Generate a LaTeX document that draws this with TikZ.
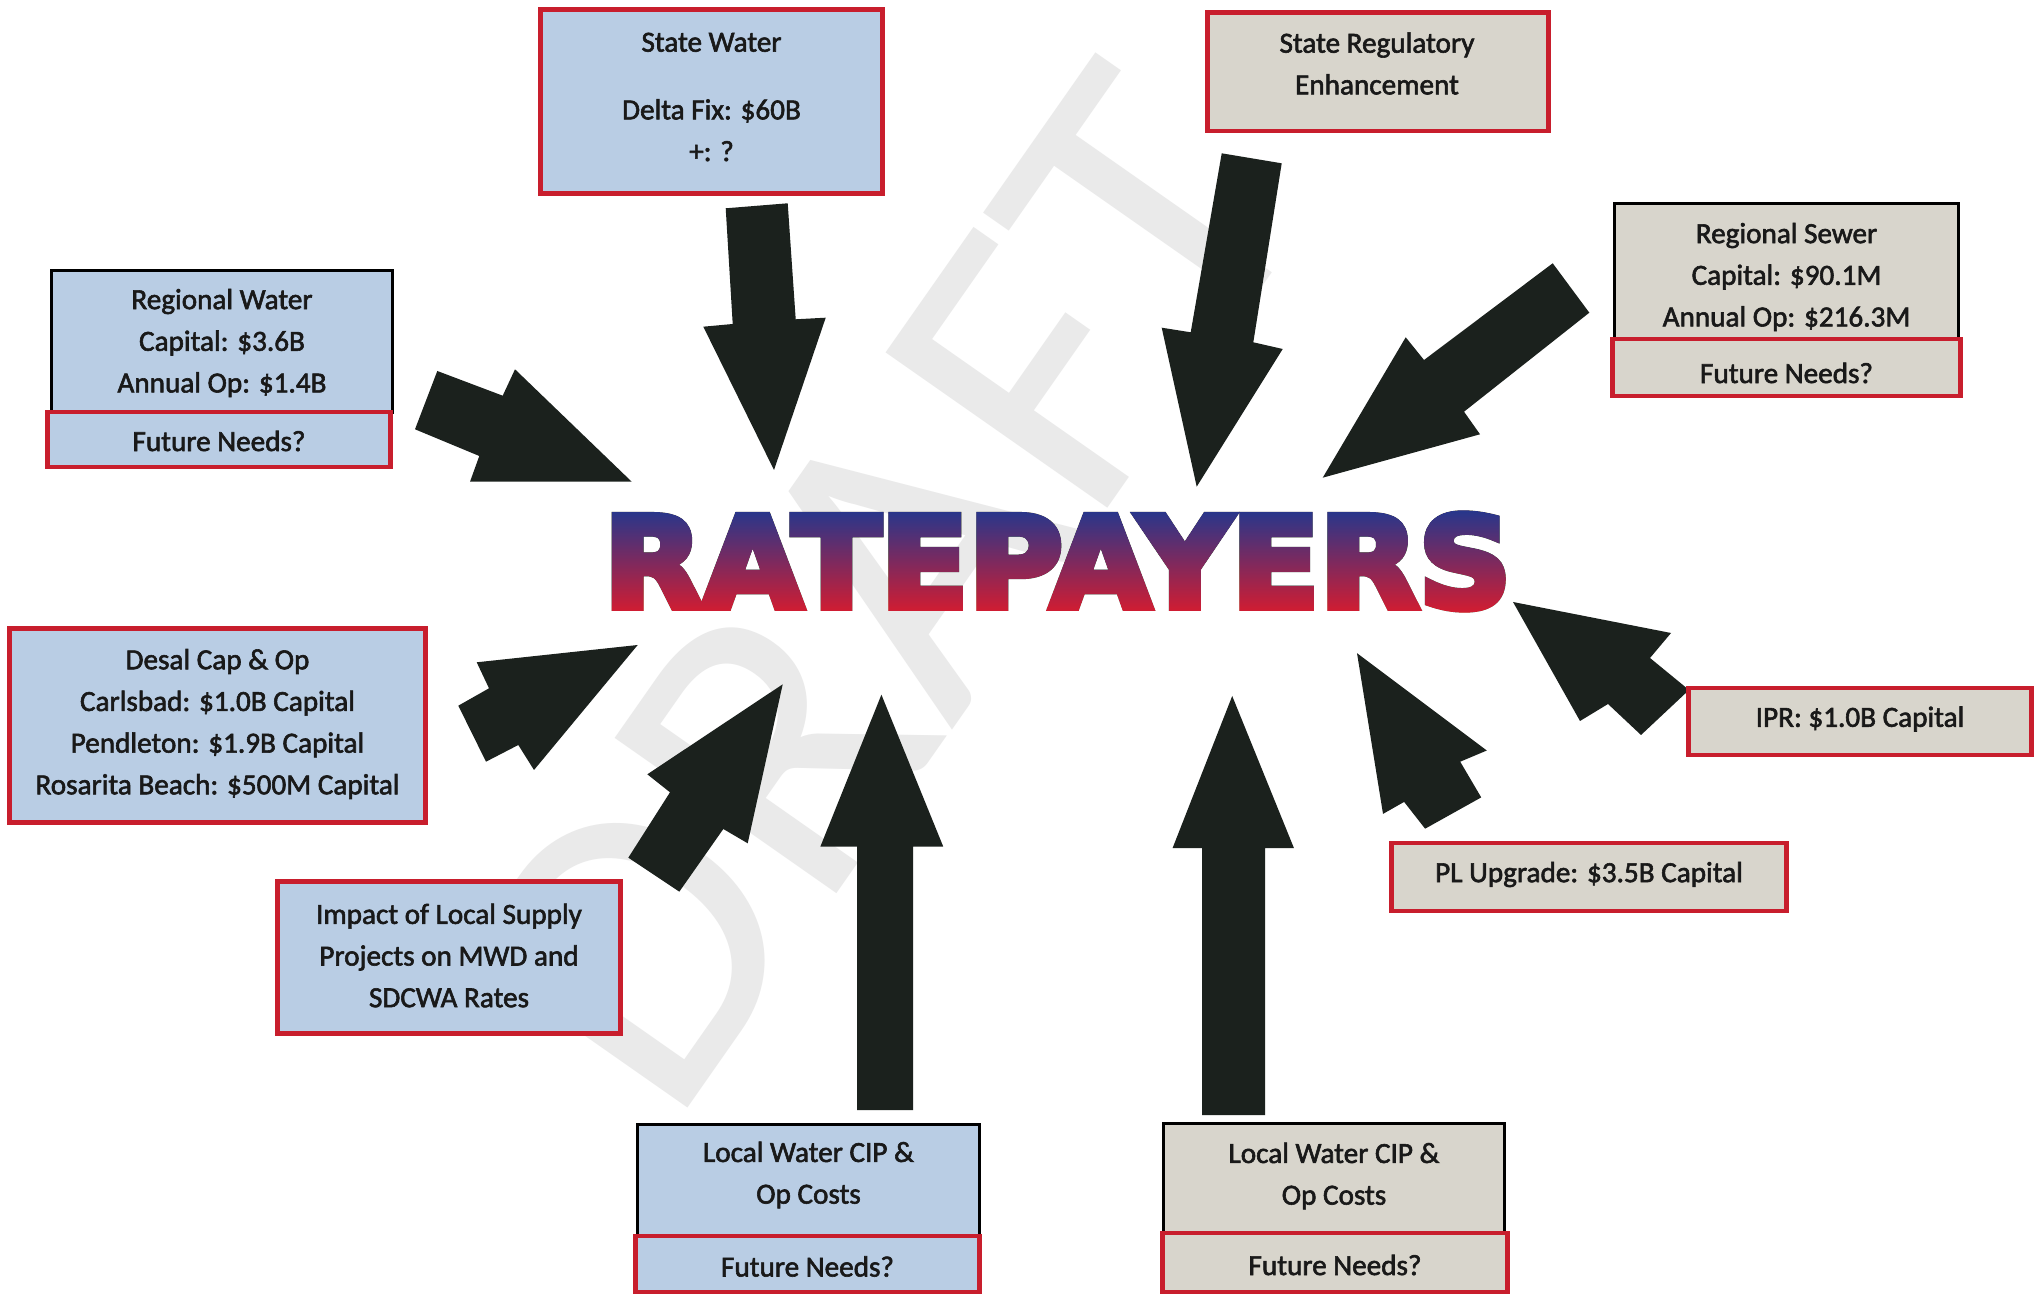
\documentclass[tikz,border=0pt]{standalone}
\usepackage{fontspec}
\setmainfont{Carlito}
\newfontfamily\boxfamily{Carlito}[FakeBold=2]
\newfontfamily\rpfamily{DejaVu Sans}[BoldFeatures={FakeBold=6}]
\usepackage{graphicx}
\definecolor{boxblue}{RGB}{185,205,228}
\definecolor{boxgray}{RGB}{216,213,204}
\definecolor{bred}{RGB}{200,30,45}
\definecolor{arrowc}{RGB}{27,33,29}
\definecolor{txt}{RGB}{25,25,25}
\definecolor{rpred}{RGB}{212,28,48}
\definecolor{rpblue}{RGB}{38,55,140}
\definecolor{wmgray}{RGB}{234,234,234}
\newcommand\bxfont{\boxfamily\fontsize{8.3}{11.85}\selectfont}
\newcommand\rpword{\resizebox{9.07cm}{0.93cm}{\rpfamily\bfseries RATEPAYERS}}
\tikzset{
  basebox/.style={draw, rectangle, inner sep=0pt},
  bluered/.style={basebox, fill=boxblue, draw=bred, line width=1.4pt},
  grayred/.style={basebox, fill=boxgray, draw=bred, line width=1.4pt},
  blueblk/.style={basebox, fill=boxblue, draw=black, line width=0.85pt},
  grayblk/.style={basebox, fill=boxgray, draw=black, line width=0.85pt},
  boxtext/.style={inner sep=0pt, align=center, font=\bxfont, text=txt},
  blockarrow/.style={fill=arrowc},
  rptext/.style={inner sep=0pt, anchor=center},
}
\begin{document}
\begin{tikzpicture}[x=0.01cm, y=-0.01cm]
\useasboundingbox (0,0) rectangle (2034,1295);
\fill[white] (0,0) rectangle (2034,1295);

% watermark
\node[rotate=55, inner sep=0pt, text=wmgray, font=\fontsize{120}{120}\selectfont] (draft) at (885,590) {DRAFT};

% arrows
\fill[blockarrow] (725.7,208.3) -- (787.7,203.3) -- (795.7,319.3) -- (825.7,317.7) -- (774,470) -- (703.3,326.7) -- (732.7,324) -- cycle;
\fill[blockarrow] (1221.7,153.3) -- (1281.7,163.3) -- (1253.3,342.3) -- (1282.7,349) -- (1196.7,486.7) -- (1161.7,327.7) -- (1190.7,332.3) -- cycle;
\fill[blockarrow] (1552.7,263.3) -- (1589.3,312.7) -- (1464,411.7) -- (1480,434.3) -- (1322.7,477.7) -- (1405.7,337.3) -- (1424,360) -- cycle;
\fill[blockarrow] (437.3,371) -- (502.7,395.7) -- (515,369.3) -- (631.7,481.7) -- (470,481.7) -- (479.3,456) -- (415,429.3) -- cycle;
\fill[blockarrow] (637.7,645) -- (534,770) -- (518.3,745) -- (486,761.7) -- (458.3,705.7) -- (489,688.3) -- (476.7,662.3) -- cycle;
\fill[blockarrow] (782.7,684.3) -- (747.7,843.3) -- (723.3,829) -- (679.3,891.7) -- (628.3,857.7) -- (670,792.3) -- (647.3,774.3) -- cycle;
\fill[blockarrow] (881.4,694.7) -- (943.2,846.5) -- (913,846.5) -- (913,1110) -- (857,1110) -- (857,846.5) -- (820.4,846.5) -- cycle;
\fill[blockarrow] (1232.2,696) -- (1293.9,848) -- (1265,848) -- (1265,1115) -- (1202,1115) -- (1202,848) -- (1172.6,848) -- cycle;
\fill[blockarrow] (1357,653.2) -- (1383,813.9) -- (1404.1,801.9) -- (1425.1,828.7) -- (1481.2,797.4) -- (1460.2,761.7) -- (1486.8,750.5) -- cycle;
\fill[blockarrow] (1513,602) -- (1580,721) -- (1608,704) -- (1641,735) -- (1689,690) -- (1650,658) -- (1671,633) -- cycle;

% central word: black text, coloured by a blue-to-red shading in lighten mode
\node[rptext, text=black] (rp) at (1057.5,561.5) {\rpword};
\begin{scope}[blend mode=lighten]
  \shade[top color=rpblue, bottom color=rpred] (598,510) rectangle (1511,613);
\end{scope}

% boxes
\node[bluered, minimum width=3.41cm, minimum height=1.83cm] (statewater) at (711.5,101.5) {};
\node[boxtext] (statewater-t) at (711.5,97) {State Water\\[0.26cm] Delta Fix: \$60B\\ +: ?};

\node[grayred, minimum width=3.40cm, minimum height=1.18cm] (statereg) at (1378,72) {};
\node[boxtext] (statereg-t) at (1377,63.5) {State Regulatory\\ Enhancement};

\node[blueblk, minimum width=3.40cm, minimum height=1.41cm] (regwater) at (222,341.5) {};
\node[boxtext] (regwater-t) at (222,343) {Regional Water\\ Capital: \$3.6B\\ Annual Op: \$1.4B};
\node[bluered, minimum width=3.42cm, minimum height=0.55cm] (regwaterfut) at (219,439.5) {};
\node[boxtext] (regwaterfut-t) at (219,441) {Future Needs?};

\node[grayblk, minimum width=3.43cm, minimum height=1.36cm] (regsewer) at (1786.5,272) {};
\node[boxtext] (regsewer-t) at (1786.5,277) {Regional Sewer\\ Capital: \$90.1M\\ Annual Op: \$216.3M};
\node[grayred, minimum width=3.47cm, minimum height=0.57cm] (regsewerfut) at (1786.5,367.5) {};
\node[boxtext] (regsewerfut-t) at (1786.5,373) {Future Needs?};

\node[bluered, minimum width=4.15cm, minimum height=1.93cm] (desal) at (217.5,725.5) {};
\node[boxtext] (desal-t) at (217.5,724) {Desal Cap \& Op\\ Carlsbad: \$1.0B Capital\\ Pendleton: \$1.9B Capital\\ Rosarita Beach: \$500M Capital};

\node[grayred, minimum width=3.42cm, minimum height=0.67cm] (ipr) at (1860,721.5) {};
\node[boxtext] (ipr-t) at (1860,719) {IPR: \$1.0B Capital};

\node[grayred, minimum width=3.94cm, minimum height=0.68cm] (pl) at (1589,877) {};
\node[boxtext] (pl-t) at (1589,874.5) {PL Upgrade: \$3.5B Capital};

\node[bluered, minimum width=3.42cm, minimum height=1.51cm] (impact) at (449,957.5) {};
\node[boxtext] (impact-t) at (449,955.5) {Impact of Local Supply\\ Projects on MWD and\\ SDCWA Rates};

\node[blueblk, minimum width=3.41cm, minimum height=1.11cm] (localblue) at (808.5,1180.5) {};
\node[boxtext] (localblue-t) at (808.5,1175) {Local Water CIP \&\\ Op Costs};
\node[bluered, minimum width=3.43cm, minimum height=0.56cm] (localbluefut) at (807.5,1264) {};
\node[boxtext] (localbluefut-t) at (807.5,1266.5) {Future Needs?};

\node[grayblk, minimum width=3.40cm, minimum height=1.09cm] (localgray) at (1334,1178.5) {};
\node[boxtext] (localgray-t) at (1334,1176) {Local Water CIP \&\\ Op Costs};
\node[grayred, minimum width=3.44cm, minimum height=0.59cm] (localgrayfut) at (1335,1262.5) {};
\node[boxtext] (localgrayfut-t) at (1335,1265) {Future Needs?};
\end{tikzpicture}
\end{document}
